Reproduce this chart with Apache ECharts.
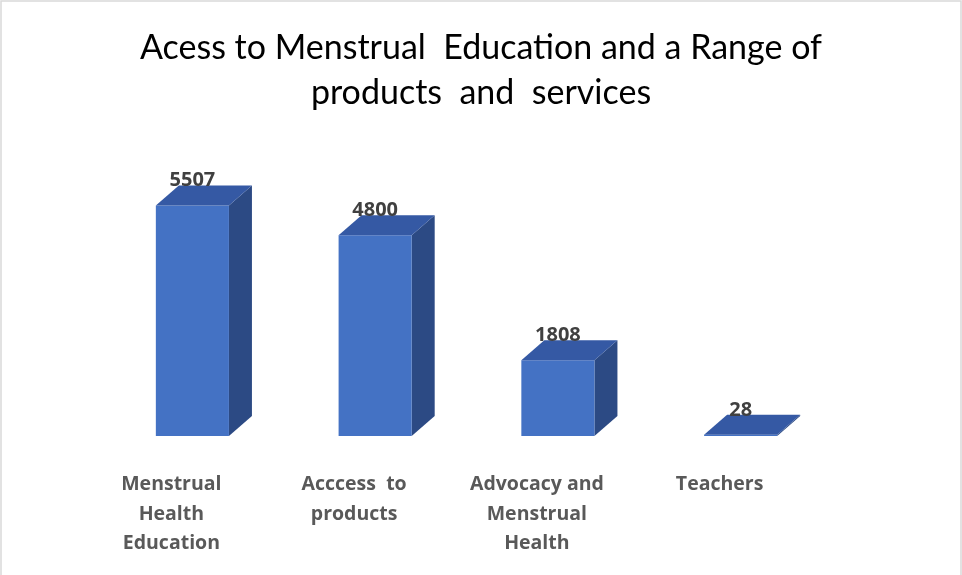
<!DOCTYPE html>
<html>
<head>
<meta charset="utf-8">
<title>Acess to Menstrual Education</title>
<script src="https://cdn.jsdelivr.net/npm/echarts@6/dist/echarts.min.js"></script>
<style>
  html, body { margin: 0; padding: 0; background: #fff; }
  #main { width: 962px; height: 575px; }
</style>
</head>
<body>
<div id="main"></div>
<script>
// data
var categories = [
  'Menstrual\nHealth\nEducation',
  'Acccess  to\nproducts',
  'Advocacy and\nMenstrual\nHealth',
  'Teachers'
]
var values = [5507, 4800, 1808, 28]

var chartTitle = 'Acess to Menstrual  Education and a Range of\nproducts  and  services'

// 3d look: front / side / top faces
var frontColor = '#4472C4'
var sideColor = '#2C4A84'
var topColor = '#3559A4'
var depthX = 23
var depthY = 20

function renderBar3D(params, api) {
  var idx = api.value(0)
  var val = api.value(1)
  var top = api.coord([idx, val])
  var base = api.coord([idx, 0])
  var band = api.size([1, 0])[0]
  var w = band * 0.4
  var x0 = top[0] + band * 0.115 - w / 2
  var x1 = x0 + w
  var y1 = top[1]
  var y0 = base[1]
  return {
    type: 'group',
    children: [
      {
        type: 'polygon',
        shape: { points: [[x1, y1], [x1 + depthX, y1 - depthY], [x1 + depthX, y0 - depthY], [x1, y0]] },
        style: { fill: sideColor }
      },
      {
        type: 'polygon',
        shape: { points: [[x0, y0], [x1, y0], [x1, y1], [x0, y1]] },
        style: { fill: frontColor }
      },
      {
        type: 'polygon',
        shape: { points: [[x0, y1], [x0 + depthX, y1 - depthY], [x1 + depthX, y1 - depthY], [x1, y1]] },
        style: { fill: topColor }
      },
      {
        type: 'text',
        style: {
          text: String(val),
          x: x0 + w / 2,
          y: y1 - depthY + 5,
          align: 'center',
          verticalAlign: 'bottom',
          fontFamily: 'Open Sans',
          fontWeight: 'bold',
          fontSize: 20,
          fill: '#404040'
        }
      }
    ]
  }
}

var chart = echarts.init(document.getElementById('main'))
var option = {
  backgroundColor: '#fff',
  animation: false,
  title: {
    text: chartTitle,
    left: 'center',
    top: 21,
    textStyle: {
      fontFamily: 'Lato',
      fontWeight: 'normal',
      fontSize: 34,
      lineHeight: 45,
      color: '#000'
    }
  },
  graphic: [{
    type: 'rect',
    shape: { x: 1, y: 1, width: 960, height: 590 },
    style: { fill: 'none', stroke: '#d9d9d9', lineWidth: 1.5 },
    silent: true
  }],
  grid: { left: 80, width: 731, top: 185, bottom: 139 },
  xAxis: {
    type: 'category',
    data: categories,
    axisLine: { show: false },
    axisTick: { show: false },
    splitLine: { show: false },
    axisLabel: {
      interval: 0,
      margin: 34,
      fontFamily: 'Open Sans',
      fontWeight: 'bold',
      fontSize: 19.5,
      lineHeight: 29.5,
      color: '#595959',
      align: 'center'
    }
  },
  yAxis: {
    type: 'value',
    min: 0,
    max: 6000,
    show: false
  },
  series: [{
    type: 'custom',
    renderItem: renderBar3D,
    encode: { x: 0, y: 1 },
    data: values.map(function (v, i) { return [i, v] })
  }]
}
chart.setOption(option)
window.addEventListener('resize', chart.resize)
</script>
</body>
</html>
